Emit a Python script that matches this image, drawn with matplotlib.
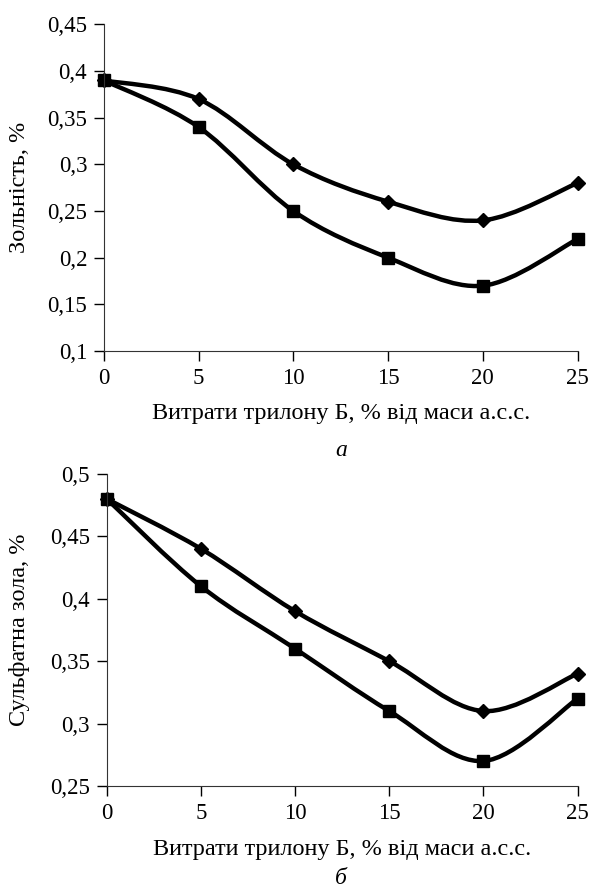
import matplotlib.pyplot as plt
from matplotlib.path import Path
from matplotlib.patches import PathPatch

plt.rcParams["font.family"] = ["Liberation Serif", "DejaVu Serif"]

# data
dose = [0, 5, 10, 15, 20, 25]
ash_diamond = [0.39, 0.37, 0.30, 0.26, 0.24, 0.28]
ash_square = [0.39, 0.34, 0.25, 0.20, 0.17, 0.22]
sulf_diamond = [0.48, 0.44, 0.39, 0.35, 0.31, 0.34]
sulf_square = [0.48, 0.41, 0.36, 0.31, 0.27, 0.32]

xlabel = "Витрати трилону Б, % від маси а.с.с."


def smooth_path(x, y):
    """Excel-like smoothed line: Catmull-Rom segments as cubic Beziers."""
    verts = [(x[0], y[0])]
    codes = [Path.MOVETO]
    n = len(x)
    for i in range(n - 1):
        x0, y0 = (x[i - 1], y[i - 1]) if i > 0 else (x[i], y[i])
        x3, y3 = (x[i + 2], y[i + 2]) if i + 2 < n else (x[i + 1], y[i + 1])
        c1 = (x[i] + (x[i + 1] - x0) / 6, y[i] + (y[i + 1] - y0) / 6)
        c2 = (x[i + 1] - (x3 - x[i]) / 6, y[i + 1] - (y3 - y[i]) / 6)
        verts += [c1, c2, (x[i + 1], y[i + 1])]
        codes += [Path.CURVE4] * 3
    return Path(verts, codes)


def draw(ax, s1, s2, ylim, yticks, ylabel, xlab_y, ylab_x):
    for s, m, ms in [(s1, "D", 7), (s2, "s", 9)]:
        ax.add_patch(PathPatch(smooth_path(dose, s), fill=False, lw=3.2,
                               edgecolor="black", capstyle="round"))
        ax.plot(dose, s, ls="none", marker=m, ms=ms, color="black", clip_on=False)
    ax.set_xlim(0, 25)
    ax.set_ylim(*ylim)
    ax.set_xticks(dose)
    ax.set_yticks(yticks)
    ax.set_yticklabels([f"{v:g}".replace(".", ",") for v in yticks])
    ax.spines[["top", "right"]].set_visible(False)
    ax.spines[["left", "bottom"]].set_color("#333333")
    ax.tick_params(direction="out", length=7, width=1, pad=5,
                   labelsize=16.5, colors="black")
    ax.set_xlabel(xlabel, fontsize=17.5, va="center")
    ax.xaxis.set_label_coords(0.5, xlab_y)
    ax.set_ylabel(ylabel, fontsize=17.5, va="center")
    ax.yaxis.set_label_coords(ylab_x, 0.5)


fig = plt.figure(figsize=(5.9, 8.9), dpi=100)
ax1 = fig.add_axes([0.176, 0.6056, 0.803, 0.367])
ax2 = fig.add_axes([0.181, 0.1169, 0.798, 0.3506])

draw(ax1, ash_diamond, ash_square, (0.1, 0.45),
     [0.1, 0.15, 0.2, 0.25, 0.3, 0.35, 0.4, 0.45], "Зольність, %", -0.19, -0.177)
draw(ax2, sulf_diamond, sulf_square, (0.25, 0.5),
     [0.25, 0.3, 0.35, 0.4, 0.45, 0.5], "Сульфатна зола, %", -0.205, -0.185)

fig.text(0.578, 1 - 450 / 890, "а", ha="center", va="center",
         fontsize=17, style="italic")
fig.text(0.578, 1 - 878 / 890, "б", ha="center", va="center",
         fontsize=17, style="italic")

fig.savefig("out.png", dpi=100)
